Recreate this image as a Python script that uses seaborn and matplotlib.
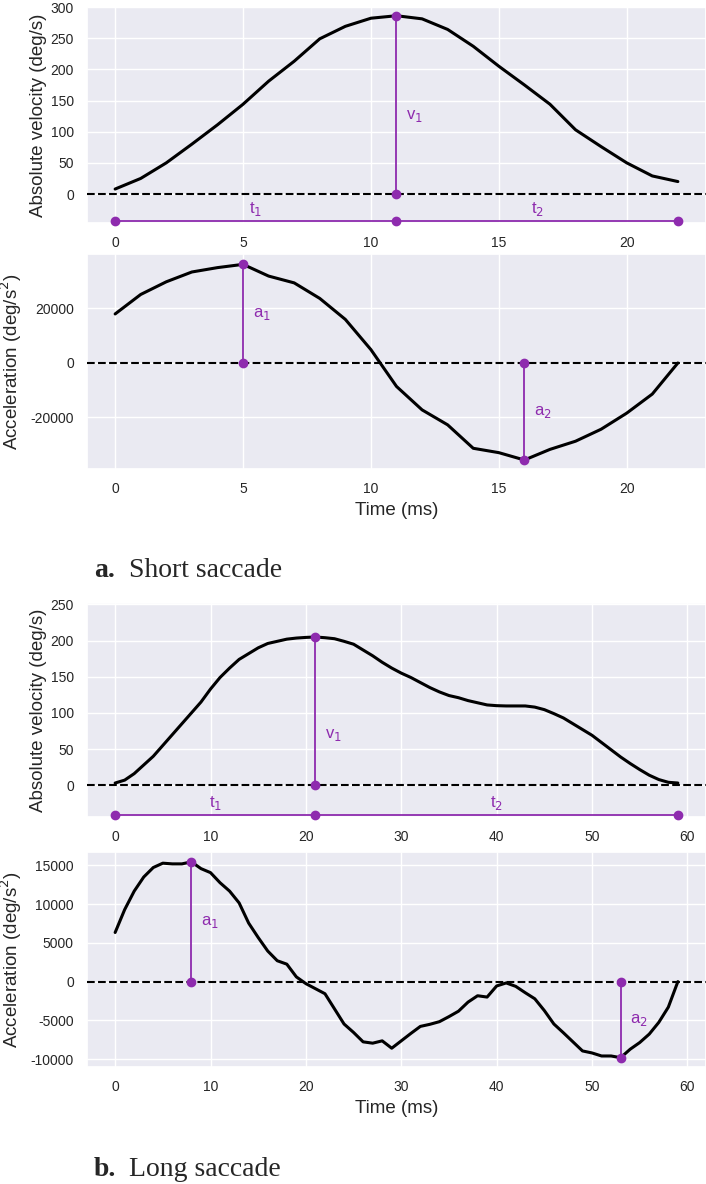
import numpy as np
import pandas as pd
import matplotlib
matplotlib.use("Agg")
import matplotlib.pyplot as plt
import seaborn as sns

# ---------------- data ----------------
short_time = list(range(23))
short_velocity = [8, 25, 50, 80, 111, 144, 181, 213, 249, 269, 282, 286, 281, 264,
                  237, 205, 175, 144, 103, 76, 50, 29, 20]
short_accel = [18000, 25150, 29800, 33400, 35000, 36200, 31900, 29400, 23700, 16000,
               4900, -8600, -17200, -22700, -31300, -32900, -35600, -31700, -28700,
               -24300, -18400, -11400, 0]

long_time = list(range(60))
long_velocity = [3, 7, 16, 28, 40, 55, 70, 85, 100, 115, 133, 149, 162, 174, 182, 190,
                 196, 199, 202, 203.5, 204.4, 205, 204, 202.6, 199, 195, 187, 179, 170,
                 162, 155, 149, 142, 135, 129, 124, 121, 117, 114, 111, 110, 109.6,
                 109.6, 109.6, 108, 104.5, 99, 93, 85, 77, 69, 59, 49, 39, 30, 21.6,
                 13.8, 7.8, 4, 3]
long_accel = [6330, 9280, 11660, 13480, 14700, 15260, 15170, 15170, 15430, 14560, 14040,
              12740, 11660, 10140, 7540, 5680, 3940, 2690, 2250, 610, -260, -910, -1560,
              -3510, -5460, -6550, -7760, -7930, -7630, -8580, -7630, -6680, -5770,
              -5500, -5160, -4510, -3810, -2640, -1820, -1990, -560, -170, -610, -1430,
              -2210, -3730, -5460, -6590, -7760, -8930, -9190, -9580, -9580, -9800,
              -8710, -7850, -6760, -5250, -3290, 0]

velocity_label = "Absolute velocity (deg/s)"
accel_label = "Acceleration (deg/s$^2$)"
time_label = "Time (ms)"
captions = [("a.", "Short saccade"), ("b.", "Long saccade")]

# ---------------- style ----------------
sns.set_theme(style="darkgrid")
plt.rcParams["font.family"] = ["Liberation Sans", "DejaVu Sans"]
plt.rcParams["xtick.labelsize"] = 10
plt.rcParams["ytick.labelsize"] = 10
plt.rcParams["axes.labelsize"] = 13.5
plt.rcParams["axes.unicode_minus"] = False

PURPLE = "#8e2bae"
W, H = 706, 1184
LEFT = 87
fig = plt.figure(figsize=(W / 100, H / 100), dpi=100)


def rect(top_px, bottom_px, left_px=LEFT, right_px=706):
    return [left_px / W, 1 - bottom_px / H, (right_px - left_px) / W,
            (bottom_px - top_px) / H]


def velocity_panel(ax, t, v, ylim, t_level, v_label_frac, xticks):
    df = pd.DataFrame({"t": t, "v": v})
    sns.lineplot(data=df, x="t", y="v", ax=ax, color="black", lw=2.2)
    ax.axhline(0, color="black", ls="--", lw=1.5, zorder=3)
    i_peak = int(np.argmax(v))
    tp, vp = t[i_peak], v[i_peak]
    ax.plot([tp, tp], [0, vp], color=PURPLE, lw=1.3, marker="o", ms=6, zorder=4)
    ax.plot([t[0], tp, t[-1]], [t_level] * 3, color=PURPLE, lw=1.3, marker="o",
            ms=6, zorder=4, clip_on=False)
    ax.annotate("v$_1$", (tp, vp * v_label_frac), xytext=(7, 0),
                textcoords="offset points", ha="left", va="center",
                color=PURPLE, fontsize=12)
    ax.text((t[0] + tp) / 2, t_level + (ylim[1] - ylim[0]) * 0.015, "t$_1$",
            ha="center", va="bottom", color=PURPLE, fontsize=12)
    ax.text((tp + t[-1]) / 2, t_level + (ylim[1] - ylim[0]) * 0.015, "t$_2$",
            ha="center", va="bottom", color=PURPLE, fontsize=12)
    ax.set_ylim(*ylim)
    ax.set_xticks(xticks)
    ax.set_xlabel("")
    ax.set_ylabel(velocity_label)
    ax.yaxis.set_label_coords((47 - LEFT) / (W - LEFT), 0.5)


def accel_panel(ax, t, a, xticks, yticks):
    df = pd.DataFrame({"t": t, "a": a})
    sns.lineplot(data=df, x="t", y="a", ax=ax, color="black", lw=2.2)
    ax.axhline(0, color="black", ls="--", lw=1.5, zorder=3)
    i_max = int(np.argmax(a))
    i_min = int(np.argmin(a))
    for i, lab in [(i_max, "a$_1$"), (i_min, "a$_2$")]:
        ax.plot([t[i], t[i]], [0, a[i]], color=PURPLE, lw=1.3, marker="o", ms=6,
                zorder=4)
        ax.annotate(lab, (t[i], a[i] / 2), xytext=(7, 0), textcoords="offset points",
                    ha="left", va="center", color=PURPLE, fontsize=12)
    ax.set_xticks(xticks)
    ax.set_yticks(yticks)
    ax.set_xlabel(time_label)
    ax.set_ylabel(accel_label)
    ax.yaxis.set_label_coords((24 - LEFT) / (W - LEFT), 0.5)


ax1 = fig.add_axes(rect(7, 222.7))
velocity_panel(ax1, short_time, short_velocity, (-46, 300), -43, 0.44,
               [0, 5, 10, 15, 20])
ax1.set_yticks([0, 50, 100, 150, 200, 250, 300])
ax1.set_xlim(-1.1, 23.1)

ax2 = fig.add_axes(rect(254, 469))
accel_panel(ax2, short_time, short_accel, [0, 5, 10, 15, 20], [-20000, 0, 20000])
ax2.set_xlim(-1.1, 23.1)
ax2.set_ylim(-38900, 40000)

ax3 = fig.add_axes(rect(603, 817))
velocity_panel(ax3, long_time, long_velocity, (-44, 252), -41, 0.34,
               [0, 10, 20, 30, 40, 50, 60])
ax3.set_yticks([0, 50, 100, 150, 200, 250])
ax3.set_xlim(-2.95, 61.95)

ax4 = fig.add_axes(rect(852, 1067))
accel_panel(ax4, long_time, long_accel, [0, 10, 20, 30, 40, 50, 60],
            [-10000, -5000, 0, 5000, 10000, 15000])
ax4.set_xlim(-2.95, 61.95)
ax4.set_ylim(-11000, 16700)

for (bold, rest), base_px in zip(captions, [577, 1176]):
    y = 1 - base_px / H
    fig.text(94 / W, y, bold, family=["Liberation Serif", "DejaVu Serif"],
             weight="bold", fontsize=20, va="baseline", ha="left")
    fig.text(129 / W, y, rest, family=["Liberation Serif", "DejaVu Serif"],
             fontsize=20, va="baseline", ha="left")

fig.savefig("out.png", dpi=100)
